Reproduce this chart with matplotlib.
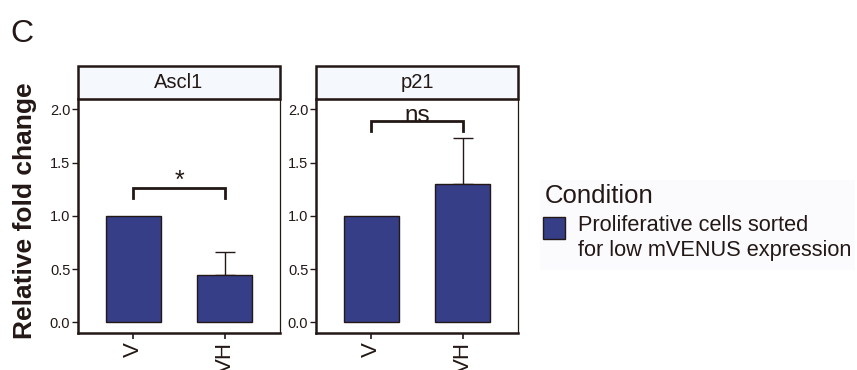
import matplotlib
matplotlib.use("Agg")
import matplotlib.pyplot as plt
from matplotlib.patches import Rectangle

plt.rcParams['font.family'] = ['Liberation Sans', 'DejaVu Sans']

# relative fold change (mean) and upper error per gene
genes = ['Ascl1', 'p21']
groups = ['V', 'VH']
ascl1_mean = [1.0, 0.444]
ascl1_err = [0.0, 0.219]
p21_mean = [1.0, 1.296]
p21_err = [0.0, 0.437]
signif = ['*', 'ns']
bracket_y = [1.264, 1.89]
legend_label = 'Proliferative cells sorted\nfor low mVENUS expression'

ink = '#231815'
bar_col = '#363e87'
strip_col = '#f5f8fd'

fig = plt.figure(figsize=(8.57, 3.70), dpi=100)
fig.patch.set_facecolor('white')

panels = [(ascl1_mean, ascl1_err), (p21_mean, p21_err)]
lefts = [78 / 857, 316 / 857]
W = 202 / 857
B = 1 - 333 / 370
H = (333 - 99) / 370

for k, (means, errs) in enumerate(panels):
    ax = fig.add_axes([lefts[k], B, W, H])
    x = [1, 2]
    ax.bar(x, means, width=0.6, color=bar_col, edgecolor=ink, linewidth=1.0, zorder=3)
    for xi, m, e in zip(x, means, errs):
        if e > 0:
            ax.errorbar(xi, m, yerr=[[0], [e]], fmt='none', ecolor=ink,
                        elinewidth=1.0, capsize=7, capthick=1.0, zorder=2)
    # significance bracket
    by = bracket_y[k]
    ax.plot([1, 1, 2, 2], [by - 0.095, by, by, by - 0.095], color=ink,
            lw=2.0, solid_joinstyle='miter', zorder=4, clip_on=False)
    if signif[k] == '*':
        ax.text(1.5, by - 0.05, signif[k], ha='center', va='bottom',
                fontsize=18, color=ink)
    else:
        ax.text(1.5, by - 0.01, signif[k], ha='center', va='baseline',
                fontsize=17.5, color=ink, zorder=5)

    ax.set_xlim(0.4, 2.6)
    ax.set_ylim(-0.1, 2.097)
    ax.set_yticks([0.0, 0.5, 1.0, 1.5, 2.0])
    ax.set_yticklabels(['0.0', '0.5', '1.0', '1.5', '2.0'])
    ax.set_xticks(x)
    ax.set_xticklabels(groups, rotation=90, fontsize=16, color=ink)
    ax.tick_params(axis='y', labelsize=10.5, labelcolor=ink, color=ink,
                   length=4, width=1.0, pad=1.5)
    ax.tick_params(axis='x', color=ink, length=4, width=1.2, pad=2.5)
    for s in ['left', 'bottom']:
        ax.spines[s].set_linewidth(1.8)
        ax.spines[s].set_color(ink)
    for s in ['right', 'top']:
        ax.spines[s].set_linewidth(0.9)
        ax.spines[s].set_color(ink)

    # facet strip
    sh = 33 / (333 - 99)
    ax.add_patch(Rectangle((0, 1), 1, sh, transform=ax.transAxes,
                           facecolor=strip_col, edgecolor=ink, linewidth=1.8,
                           clip_on=False))
    ax.text(0.5, 1 + sh / 2, genes[k], transform=ax.transAxes, ha='center',
            va='center', fontsize=14.5, color=ink)

fig.text(25 / 857, 1 - 211 / 370, 'Relative fold change', rotation=90,
         ha='center', va='center', fontsize=19, fontweight='bold', color=ink)
fig.text(10 / 857, 1 - 42 / 370, 'C', ha='left', va='baseline',
         fontsize=23, color=ink)

# legend
fig.patches.append(Rectangle((540 / 857, 1 - 270 / 370), 315 / 857, 90 / 370,
                             transform=fig.transFigure, facecolor='#fbfbfd',
                             edgecolor='none', zorder=0))
fig.text(545 / 857, 1 - 203 / 370, 'Condition', ha='left', va='baseline',
         fontsize=18.5, color=ink)
fig.patches.append(Rectangle((543 / 857, 1 - 239 / 370), 22 / 857, 22 / 370,
                             transform=fig.transFigure, facecolor=bar_col,
                             edgecolor=ink, linewidth=1.0))
fig.text(578 / 857, 1 - 238 / 370, legend_label, ha='left', va='center',
         fontsize=15.7, color=ink, linespacing=1.25)

fig.savefig('out.png', dpi=100)
